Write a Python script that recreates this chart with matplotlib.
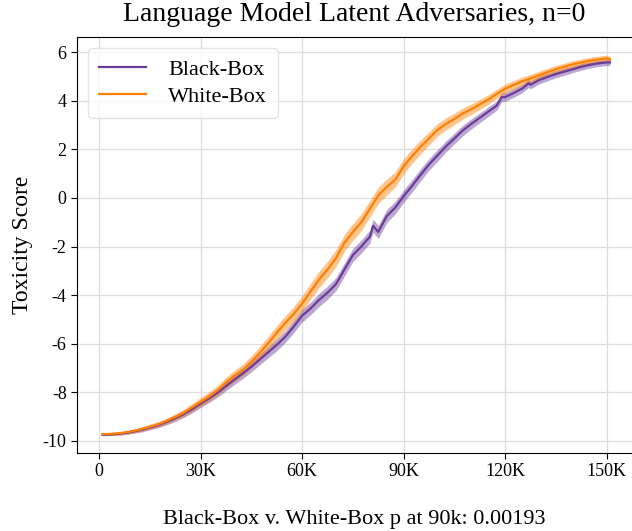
import numpy as np
import matplotlib as mpl
import matplotlib.pyplot as plt
from matplotlib.ticker import FuncFormatter

mpl.rcParams['font.family'] = ['Liberation Serif', 'DejaVu Serif']
mpl.rcParams['axes.unicode_minus'] = False

#%% Data, steps in thousands
white_steps = [1, 2.5, 5, 7.5, 10, 12.5, 15, 17.5, 20, 22.5, 25, 27.5, 30, 32.5,
               35, 37.5, 40, 42.5, 45, 47.5, 50, 52.5, 55, 57.5, 60, 62.5, 65,
               67.5, 70, 72.5, 75, 77.5, 80, 82.5, 85, 87.5, 90, 92.5, 95, 97.5,
               100, 102.5, 105, 107.5, 110, 112.5, 115, 117.5, 120, 122.5, 125,
               127.5, 130, 132.5, 135, 137.5, 140, 142.5, 145, 147.5, 150, 151]

white_box = [-9.73, -9.72, -9.70, -9.66, -9.60, -9.52, -9.42, -9.32, -9.18,
             -9.02, -8.85, -8.62, -8.40, -8.18, -7.92, -7.60, -7.32, -7.08,
             -6.75, -6.38, -5.98, -5.55, -5.15, -4.78, -4.35, -3.85, -3.36,
             -2.95, -2.48, -1.85, -1.40, -1.00, -0.45, 0.10, 0.45, 0.75, 1.30,
             1.72, 2.10, 2.45, 2.80, 3.05, 3.25, 3.48, 3.65, 3.85, 4.05, 4.28,
             4.50, 4.65, 4.80, 4.92, 5.05, 5.18, 5.30, 5.40, 5.50, 5.58, 5.65,
             5.70, 5.75, 5.70]

white_err = [0.05, 0.05, 0.06, 0.07, 0.08, 0.09, 0.10, 0.11, 0.12, 0.13, 0.15,
             0.16, 0.18, 0.19, 0.20, 0.22, 0.23, 0.24, 0.25, 0.27, 0.28, 0.29,
             0.30, 0.31, 0.32, 0.33, 0.34, 0.35, 0.35, 0.35, 0.35, 0.35, 0.34,
             0.34, 0.33, 0.32, 0.31, 0.30, 0.29, 0.28, 0.26, 0.25, 0.24, 0.23,
             0.22, 0.21, 0.20, 0.19, 0.19, 0.18, 0.18, 0.17, 0.17, 0.16, 0.16,
             0.15, 0.15, 0.14, 0.14, 0.14, 0.13, 0.13]

black_steps = [1, 2.5, 5, 7.5, 10, 12.5, 15, 17.5, 20, 22.5, 25, 27.5, 30, 32.5,
               35, 37.5, 40, 42.5, 45, 47.5, 50, 52.5, 55, 57.5, 60, 62.5, 65,
               67.5, 70, 72.5, 75, 77.5, 80, 81, 82.5, 85, 87.5, 90, 92.5, 95,
               97.5, 100, 102.5, 105, 107.5, 110, 112.5, 115, 117.5, 119, 120,
               122.5, 125, 127, 127.5, 130, 132.5, 135, 137.5, 140, 142.5, 145,
               147.5, 150, 151]

black_box = [-9.75, -9.74, -9.72, -9.68, -9.62, -9.55, -9.45, -9.35, -9.22,
             -9.07, -8.90, -8.70, -8.47, -8.25, -8.02, -7.75, -7.48, -7.22,
             -6.95, -6.65, -6.35, -6.05, -5.72, -5.30, -4.85, -4.55, -4.20,
             -3.90, -3.55, -2.95, -2.35, -2.00, -1.60, -1.15, -1.40, -0.75,
             -0.40, 0.07, 0.50, 0.95, 1.38, 1.75, 2.12, 2.45, 2.78, 3.05, 3.30,
             3.55, 3.80, 4.15, 4.15, 4.32, 4.50, 4.72, 4.66, 4.85, 4.98, 5.10,
             5.20, 5.30, 5.40, 5.48, 5.54, 5.58, 5.58]

black_err = [0.05, 0.05, 0.06, 0.07, 0.08, 0.09, 0.10, 0.11, 0.12, 0.13, 0.14,
             0.15, 0.16, 0.17, 0.18, 0.19, 0.20, 0.21, 0.21, 0.22, 0.23, 0.24,
             0.24, 0.25, 0.26, 0.26, 0.27, 0.27, 0.27, 0.27, 0.27, 0.27, 0.27,
             0.27, 0.27, 0.27, 0.26, 0.26, 0.25, 0.25, 0.24, 0.24, 0.23, 0.22,
             0.22, 0.21, 0.20, 0.20, 0.19, 0.19, 0.18, 0.18, 0.17, 0.17, 0.17,
             0.16, 0.16, 0.15, 0.15, 0.14, 0.14, 0.13, 0.13, 0.13, 0.13]

x_ticks = [0, 30000, 60000, 90000, 120000, 150000]
y_ticks = [-10, -8, -6, -4, -2, 0, 2, 4, 6]

series = [("Black-Box", black_steps, black_box, black_err, "#6a3d9a"),
          ("White-Box", white_steps, white_box, white_err, "#ff7f00")]

#%% Plot
fig = plt.figure(figsize=(6.32, 5.31), dpi=100)
ax = fig.add_axes([0.122, 0.147, 0.878, 0.783])

for name, xs, vals, err, col in series:
    xs = np.array(xs) * 1000
    vals = np.array(vals)
    err = np.array(err)
    ax.fill_between(xs, vals - err, vals + err, color=col, alpha=0.45, lw=0)
    ax.plot(xs, vals, color=col, lw=1.6, label=name)

ax.set_xlim(-6500, 157500)
ax.set_ylim(-10.5, 6.62)
ax.set_xticks(x_ticks)
ax.set_yticks(y_ticks)
ax.xaxis.set_major_formatter(FuncFormatter(lambda v, p: "0" if v == 0 else f"{int(v/1000)}K"))
ax.yaxis.set_major_formatter(FuncFormatter(lambda v, p: f"{int(v)}"))
ax.tick_params(labelsize=13, length=4, width=0.8)
ax.grid(True, color="#dddddd", lw=0.9)
ax.set_axisbelow(True)
ax.spines['right'].set_visible(False)

ax.set_title("Language Model Latent Adversaries, n=0", fontsize=20, pad=12)
ax.set_xlabel("Black-Box v. White-Box p at 90k: 0.00193", fontsize=16, labelpad=21)
ax.set_ylabel("Toxicity Score", fontsize=17, labelpad=7)

ax.legend(loc="upper left", fontsize=16, handlelength=2.1, handletextpad=1.0,
          borderpad=0.5, labelspacing=0.3, framealpha=0.8, edgecolor="#dddddd")

fig.savefig("out.png", dpi=100)
